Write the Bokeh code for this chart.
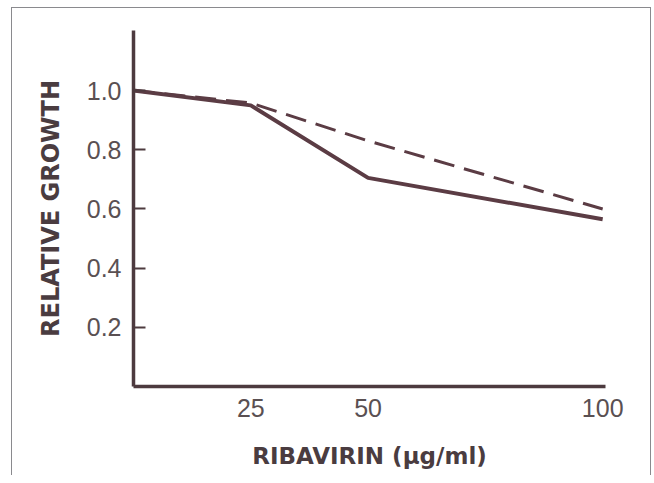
from bokeh.plotting import figure
from bokeh.models import FixedTicker, Range1d
from bokeh.layouts import column
from bokeh.embed import file_html
from bokeh.resources import INLINE

# Data
dose = [0, 25, 50, 100]
growth_solid = [1.0, 0.95, 0.705, 0.565]
dose_dashed = [0, 25, 50, 100]
growth_dashed = [1.0, 0.958, 0.83, 0.60]

x_ticks = [25, 50, 100]
x_tick_labels = ["25", "50", "100"]
y_ticks = [0.2, 0.4, 0.6, 0.8, 1.0]
y_tick_labels = ["0.2", "0.4", "0.6", "0.8", "1.0"]

LINE = "#5b3c44"
AXIS = "#4d3a3f"
TEXT = "#5a5052"
LABEL = "#4a3c40"

W, H = 638, 467
p = figure(width=W, height=H, output_backend="svg", toolbar_location=None,
           x_range=Range1d(0, 100.6), y_range=Range1d(0, 1.203),
           min_border_left=121, min_border_right=45, min_border_top=22, min_border_bottom=89)

p.outline_line_color = None
p.xgrid.grid_line_color = None
p.ygrid.grid_line_color = None
p.background_fill_color = "white"
p.border_fill_color = "white"

p.line(dose_dashed, growth_dashed, line_color=LINE, line_width=3, line_dash="21 10")
p.line(dose, growth_solid, line_color=LINE, line_width=4)

# X axis
xa = p.xaxis[0]
xa.ticker = FixedTicker(ticks=x_ticks)
xa.major_label_overrides = {t: l for t, l in zip(x_ticks, x_tick_labels)}
xa.axis_line_color = AXIS
xa.axis_line_width = 3.5
xa.major_tick_line_color = None
xa.minor_tick_line_color = None
xa.major_tick_in = 0
xa.major_tick_out = 0
xa.major_label_text_font = "Liberation Sans"
xa.major_label_text_font_size = "25px"
xa.major_label_text_color = TEXT
xa.major_label_standoff = 12
xa.axis_label = "RIBAVIRIN (\u03bcg/ml)"
xa.axis_label_text_font = "DejaVu Sans"
xa.axis_label_text_font_style = "bold"
xa.axis_label_text_font_size = "23px"
xa.axis_label_text_color = LABEL
xa.axis_label_standoff = 23

# Y axis
ya = p.yaxis[0]
ya.ticker = FixedTicker(ticks=y_ticks)
ya.major_label_overrides = {t: l for t, l in zip(y_ticks, y_tick_labels)}
ya.axis_line_color = AXIS
ya.axis_line_width = 3.5
ya.major_tick_line_color = AXIS
ya.major_tick_line_width = 2
ya.minor_tick_line_color = None
ya.major_tick_in = 12
ya.major_tick_out = 0
ya.major_label_text_font = "Liberation Sans"
ya.major_label_text_font_size = "25px"
ya.major_label_text_color = TEXT
ya.major_label_standoff = 12
ya.axis_label = "RELATIVE GROWTH"
ya.axis_label_text_font = "DejaVu Sans"
ya.axis_label_text_font_style = "bold"
ya.axis_label_text_font_size = "24px"
ya.axis_label_text_color = LABEL
ya.axis_label_standoff = 19

layout = column(p, styles={"margin-left": "11px", "margin-top": "7px",
                           "border-left": "1px solid #8a8a8e",
                           "border-top": "1px solid #8a8a8e",
                           "border-right": "1px solid #8a8a8e"})

open("out.html", "w").write(file_html(layout, INLINE))
